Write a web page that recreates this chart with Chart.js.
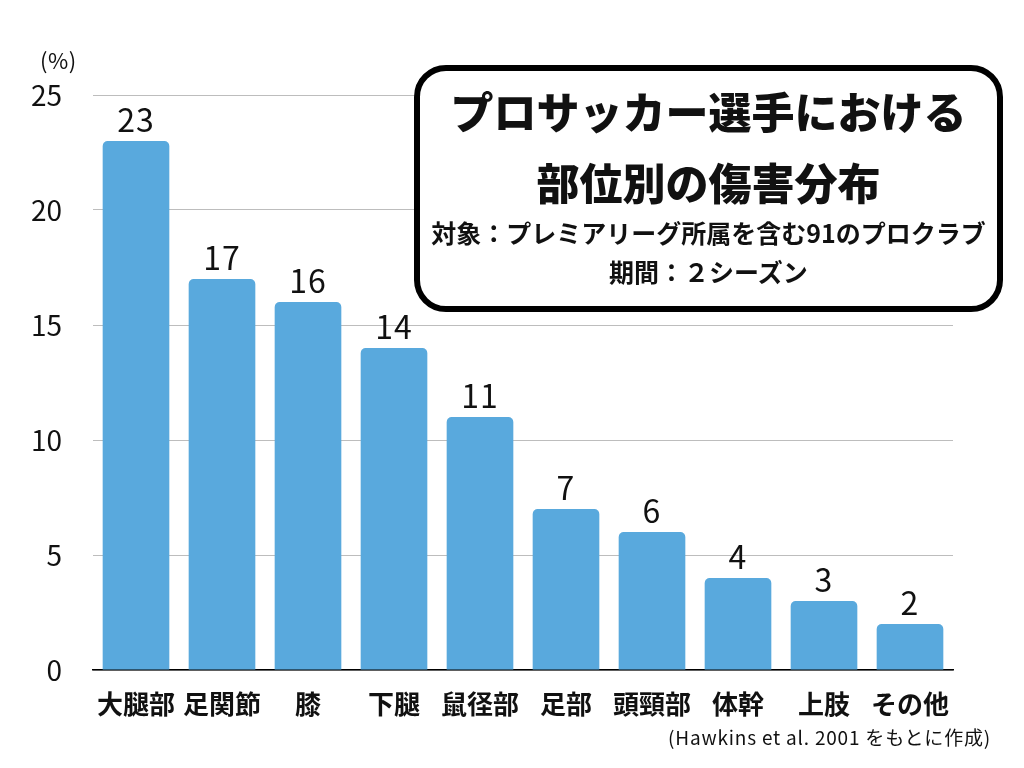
<!DOCTYPE html>
<html lang="ja">
<head>
<meta charset="utf-8">
<script src="https://cdn.jsdelivr.net/npm/chart.js@4/dist/chart.umd.min.js"></script>
<style>
  html, body { margin: 0; padding: 0; background: #fff; }
  #wrap { position: relative; width: 1024px; height: 768px; font-family: "Noto Sans CJK JP", "Noto Sans", sans-serif; color: #111; }
  #c { position: absolute; left: 0; top: 0; }
  #unit { position: absolute; left: 40px; top: 43px; font-size: 22px; letter-spacing: 0.5px; }
  #box { position: absolute; left: 414px; top: 65px; width: 577px; height: 235px; border: 6px solid #000; border-radius: 32px; background: #fff; text-align: center; }
  #t1, #t2 { position: absolute; left: 0; right: 0; font-size: 43px; font-weight: 900; line-height: 1; }
  #t1 { top: 18px; }
  #t2 { top: 89px; }
  #s1, #s2 { position: absolute; left: 0; right: 0; font-size: 25px; font-weight: 700; line-height: 1; }
  #s1 { top: 149px; }
  #s2 { top: 188px; }
  #foot { position: absolute; right: 33px; top: 723px; font-size: 19px; letter-spacing: 0.8px; }
</style>
</head>
<body>
<div id="wrap">
  <canvas id="c" width="1024" height="768"></canvas>
  <div id="unit">(%)</div>
  <div id="box">
    <div id="t1">プロサッカー選手における</div>
    <div id="t2">部位別の傷害分布</div>
    <div id="s1">対象：プレミアリーグ所属を含む91のプロクラブ</div>
    <div id="s2">期間：２シーズン</div>
  </div>
  <div id="foot">(Hawkins et al. 2001 をもとに作成)</div>
</div>
<script>
const categories = ["大腿部", "足関節", "膝", "下腿", "鼠径部", "足部", "頭頸部", "体幹", "上肢", "その他"];
const injuryShare = [23, 17, 16, 14, 11, 7, 6, 4, 3, 2];
const yTicks = [0, 5, 10, 15, 20, 25];

const FONT = '"Noto Sans CJK JP", "Noto Sans", sans-serif';

const valueLabels = {
  id: 'valueLabels',
  afterDatasetsDraw(chart) {
    const ctx = chart.ctx;
    const meta = chart.getDatasetMeta(0);
    ctx.save();
    ctx.font = '32px ' + FONT;
    if ('letterSpacing' in ctx) ctx.letterSpacing = '1px';
    ctx.fillStyle = '#111';
    ctx.textAlign = 'center';
    ctx.textBaseline = 'alphabetic';
    meta.data.forEach((bar, i) => {
      ctx.fillText(String(injuryShare[i]), bar.x, bar.y - 9);
    });
    ctx.restore();
  }
};

new Chart(document.getElementById('c'), {
  type: 'bar',
  data: {
    labels: categories,
    datasets: [{
      data: injuryShare,
      backgroundColor: '#59a9dd',
      borderWidth: 0,
      borderRadius: { topLeft: 5, topRight: 5, bottomLeft: 0, bottomRight: 0 },
      borderSkipped: 'bottom',
      categoryPercentage: 1,
      barPercentage: 0.775
    }]
  },
  options: {
    responsive: false,
    animation: false,
    layout: { padding: { left: 0, right: 71, top: 95, bottom: 0 } },
    plugins: { legend: { display: false }, tooltip: { enabled: false }, title: { display: false } },
    scales: {
      x: {
        grid: { display: false },
        border: { display: true, color: '#000', width: 1.5 },
        ticks: { font: { family: FONT, size: 26, weight: 'bold' }, color: '#111', padding: 11, maxRotation: 0, autoSkip: false },
        afterFit(s) { s.height = 98; }
      },
      y: {
        min: 0, max: 25,
        afterBuildTicks(s) { s.ticks = yTicks.map(v => ({ value: v })); },
        grid: { color: '#bdbdbd', lineWidth: 1, drawTicks: false },
        border: { display: false },
        ticks: { font: { family: FONT, size: 28 }, color: '#111', padding: 31 },
        afterFit(s) { s.width = 93; }
      }
    }
  },
  plugins: [valueLabels]
});
</script>
</body>
</html>
